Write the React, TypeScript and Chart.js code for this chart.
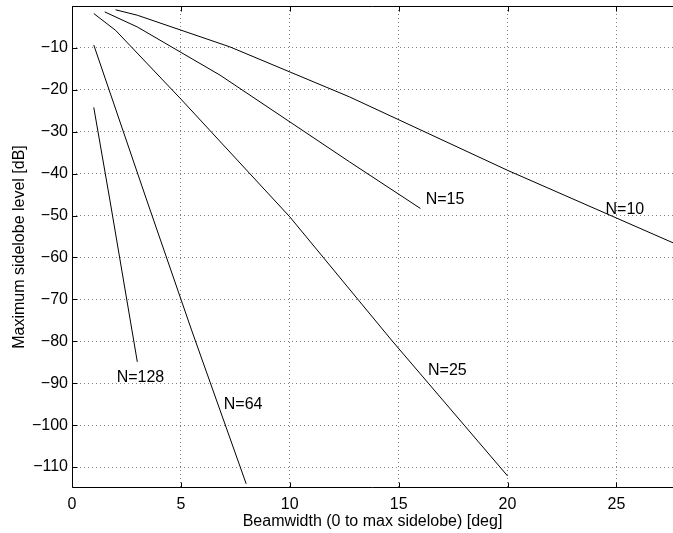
import React, { useEffect, useRef } from 'react';
import { Chart, registerables } from 'chart.js';

Chart.register(...registerables);

// Series (beamwidth [deg] vs maximum sidelobe level [dB])
const n10X = [2.0, 3.0, 7.25, 12.75, 20.0, 27.6];
const n10Y = [-0.9, -2.2, -9.75, -21.7, -39.2, -56.5];
const n15X = [1.5, 3.0, 6.8, 12.75, 16.0];
const n15Y = [-1.4, -5.0, -16.5, -37.2, -48.3];
const n25X = [1.0, 2.0, 5.0, 10.0, 14.67, 20.0];
const n25Y = [-1.8, -5.8, -22.2, -50.3, -79.7, -112.1];
const n64X = [1.0, 3.43, 5.49, 8.0];
const n64Y = [-9.3, -46.3, -77.3, -114.0];
const n128X = [1.0, 1.74, 3.0];
const n128Y = [-24.2, -46.3, -84.9];

const seriesX = [n10X, n15X, n25X, n64X, n128X];
const seriesY = [n10Y, n15Y, n25Y, n64Y, n128Y];

// Text annotations
const labelTexts = ['N=10', 'N=15', 'N=25', 'N=64', 'N=128'];
const labelX = [24.5, 16.24, 16.35, 6.97, 2.05];
const labelY = [-48.5, -46.3, -87.1, -95.2, -88.7];

// Ticks
const xTicks = [0, 5, 10, 15, 20, 25];
const yTicks = [-10, -20, -30, -40, -50, -60, -70, -80, -90, -100, -110];
const xMin = 0;
const xMax = 27.6;
const yMin = -115;
const yMax = 0;

const xTitle = 'Beamwidth (0 to max sidelobe) [deg]';
const yTitle = 'Maximum sidelobe level [dB]';

const FONT = "'Liberation Sans', Arial, Helvetica, sans-serif";
const FS = 16;

const framePlugin = {
  id: 'frame',
  afterDatasetsDraw(chart: any) {
    const { ctx, chartArea, scales } = chart;
    const { left, top, right, bottom } = chartArea;
    ctx.save();
    ctx.setLineDash([]);
    ctx.strokeStyle = '#000';
    ctx.lineWidth = 1;
    const L = Math.round(left) + 0.5;
    const T = Math.round(top) + 0.5;
    const B = Math.round(bottom) - 0.5;
    ctx.beginPath();
    ctx.moveTo(L, T);
    ctx.lineTo(right, T);
    ctx.moveTo(L, T);
    ctx.lineTo(L, B);
    ctx.lineTo(right, B);
    ctx.stroke();
    const tl = 5;
    ctx.beginPath();
    xTicks.forEach((v) => {
      const px = Math.round(scales.x.getPixelForValue(v)) + 0.5;
      ctx.moveTo(px, T);
      ctx.lineTo(px, T + tl);
      ctx.moveTo(px, B);
      ctx.lineTo(px, B - tl);
    });
    yTicks.forEach((v) => {
      const py = Math.round(scales.y.getPixelForValue(v)) + 0.5;
      ctx.moveTo(L, py);
      ctx.lineTo(L + tl, py);
    });
    ctx.stroke();

    ctx.fillStyle = '#000';
    ctx.font = `${FS}px ${FONT}`;
    ctx.textAlign = 'left';
    ctx.textBaseline = 'middle';
    labelTexts.forEach((t, i) => {
      const px = scales.x.getPixelForValue(labelX[i]);
      const py = scales.y.getPixelForValue(labelY[i]);
      ctx.fillText(t, px, py);
    });
    ctx.restore();
  },
};

const fmt = (v: number) => (v < 0 ? '\u2212' + Math.abs(v) : String(v));

export default function App() {
  const ref = useRef<HTMLCanvasElement>(null);

  useEffect(() => {
    document.body.style.margin = '0';
    const canvas = ref.current;
    if (!canvas) return;
    const datasets = seriesX.map((xs, i) => ({
      label: labelTexts[i],
      data: xs.map((x, j) => ({ x, y: seriesY[i][j] })),
      showLine: true,
      borderColor: '#000',
      borderWidth: 1,
      pointRadius: 0,
      fill: false,
      tension: 0,
    }));
    const chart = new Chart(canvas, {
      type: 'scatter',
      data: { datasets },
      options: {
        animation: false,
        responsive: false,
        devicePixelRatio: 1,
        layout: { padding: { top: 6, right: 0, left: 0, bottom: 0 } },
        plugins: { legend: { display: false }, tooltip: { enabled: false } },
        scales: {
          x: {
            type: 'linear',
            min: xMin,
            max: xMax,
            afterBuildTicks: (s: any) => {
              s.ticks = xTicks.map((v) => ({ value: v }));
            },
            afterFit: (s: any) => {
              s.height = 45;
              s.paddingLeft = 0;
              s.paddingRight = 0;
            },
            grid: { color: 'rgba(0,0,0,0.5)', lineWidth: 1, drawTicks: false },
            border: { display: false, dash: [1, 3] },
            ticks: {
              color: '#000',
              font: { family: FONT, size: FS },
              padding: 7,
              maxRotation: 0,
              autoSkip: false,
              callback: (v: any) => fmt(Number(v)),
            },
            title: {
              display: true,
              text: xTitle,
              color: '#000',
              font: { family: FONT, size: FS },
              padding: { top: 0, bottom: 2 },
            },
          },
          y: {
            type: 'linear',
            min: yMin,
            max: yMax,
            afterBuildTicks: (s: any) => {
              s.ticks = yTicks.map((v) => ({ value: v }));
            },
            afterFit: (s: any) => {
              s.width = 72;
              s.paddingTop = 0;
              s.paddingBottom = 0;
            },
            grid: { color: 'rgba(0,0,0,0.5)', lineWidth: 1, drawTicks: false },
            border: { display: false, dash: [1, 3] },
            ticks: {
              color: '#000',
              font: { family: FONT, size: FS },
              padding: 4,
              autoSkip: false,
              callback: (v: any) => fmt(Number(v)),
            },
            title: {
              display: true,
              text: yTitle,
              color: '#000',
              font: { family: FONT, size: FS },
              padding: { top: 10, bottom: 0 },
            },
          },
        },
      },
      plugins: [framePlugin],
    });
    return () => chart.destroy();
  }, []);

  return (
    <div style={{ width: 673, height: 533 }}>
      <canvas ref={ref} width={673} height={533} style={{ display: 'block' }} />
    </div>
  );
}
